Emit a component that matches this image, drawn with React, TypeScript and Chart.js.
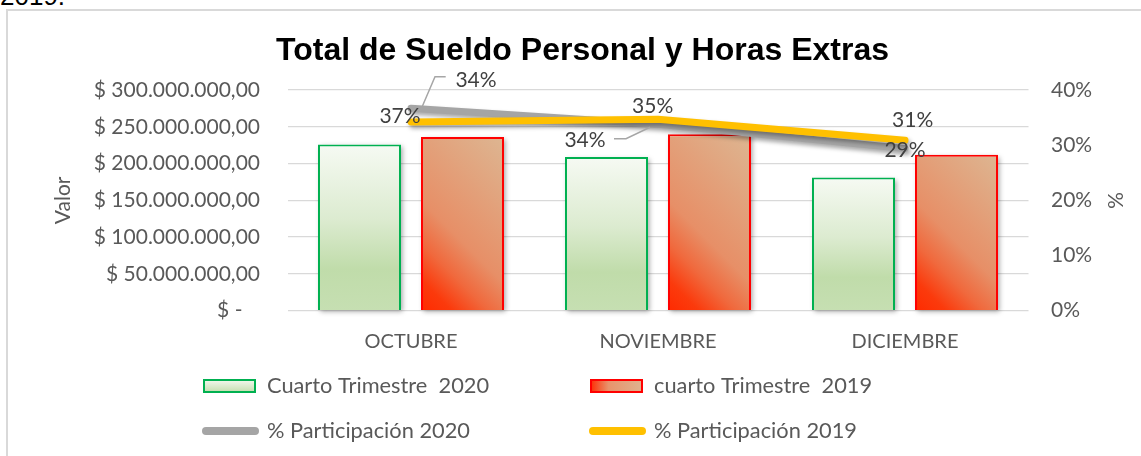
import React, { useEffect, useRef } from 'react';
import { Chart, registerables } from 'chart.js';

Chart.register(...registerables);

// ---------- data ----------
const categories = ['OCTUBRE', 'NOVIEMBRE', 'DICIEMBRE'];
const sueldo2020 = [226000000, 209000000, 181000000];
const sueldo2019 = [236000000, 240000000, 212000000];
const participacion2020 = [0.367, 0.338, 0.294];
const participacion2019 = [0.342, 0.347, 0.309];
const seriesNames = [
  'Cuarto Trimestre  2020',
  'cuarto Trimestre  2019',
  '% Participación 2020',
  '% Participación 2019',
];
const chartTitle = 'Total de Sueldo Personal y Horas Extras';
const leftAxisTitle = 'Valor';
const rightAxisTitle = '%';
const valorMax = 300000000;
const valorStep = 50000000;
const pctMax = 0.4;
const pctStep = 0.1;

// ---------- styles ----------
const FONT = 'Lato, "Open Sans", sans-serif';
const TEXT = '#595959';
const LABEL = '#404040';
const CAT_PCT = 0.834;
const BAR_PCT = 0.806;
const TICK_SIZE = 21;
const XTICK_SIZE = 20;
const LEGEND_SIZE = 21.8;
const DATALABEL_SIZE = 21;

function money(v: number): string {
  if (v === 0) return '$ -\u2007 ';
  const s = Math.round(v).toString().replace(/\B(?=(\d{3})+(?!\d))/g, '.');
  return '$ ' + s + ',00';
}

function barGeom(ctx: any) {
  const chart = ctx.chart;
  const { x, y } = chart.scales;
  const center = x.getPixelForValue(ctx.dataIndex);
  const cat = x.getPixelForValue(1) - x.getPixelForValue(0);
  const slot = (cat * CAT_PCT) / 2;
  const cx = center + (ctx.datasetIndex === 0 ? -slot / 2 : slot / 2);
  const w = slot * BAR_PCT;
  const top = y.getPixelForValue(ctx.raw);
  const bottom = y.getPixelForValue(0);
  return { x0: cx - w / 2, w, top, bottom };
}

function greenFill(ctx: any) {
  if (ctx.type !== 'data' || !ctx.chart.chartArea) return '#d3e8c6';
  const { top, bottom } = barGeom(ctx);
  const g = ctx.chart.ctx.createLinearGradient(0, top, 0, bottom);
  g.addColorStop(0, '#f6faf3');
  g.addColorStop(0.45, '#dcebd0');
  g.addColorStop(0.75, '#c0dcaa');
  g.addColorStop(1, '#c6dfb2');
  return g;
}

function redFill(ctx: any) {
  if (ctx.type !== 'data' || !ctx.chart.chartArea) return '#e8916a';
  const { x0, w, top, bottom } = barGeom(ctx);
  const h = bottom - top;
  const d = (w + h) / 2;
  const len = d * Math.SQRT2;
  const g = ctx.chart.ctx.createLinearGradient(x0, bottom, x0 + d, bottom - d);
  const s = (px: number) => Math.min(0.99, px / len);
  g.addColorStop(0, '#ff2a00');
  g.addColorStop(s(22), '#fb3a0c');
  g.addColorStop(s(48), '#f0693d');
  g.addColorStop(s(78), '#e78f67');
  g.addColorStop(1, '#ddb692');
  return g;
}

// label placement relative to each line point
const labelPlacement: Record<number, Array<{ dx: number; dy: number; leader?: number[][] }>> = {
  2: [
    { dx: -11, dy: 8 },
    { dx: -73, dy: 16, leader: [[-44, 14.5], [-32, 14.5], [-8, 3]] },
    { dx: 0, dy: 1.5 },
  ],
  3: [
    { dx: 65, dy: -41.3, leader: [[34.7, -45.3], [24, -45.3], [9, -10.3]] },
    { dx: -5.3, dy: -13.5 },
    { dx: 7.7, dy: -19.5 },
  ],
};

const shadowPlugin = {
  id: 'shadows',
  beforeDatasetDraw(chart: any, args: any) {
    const ctx = chart.ctx;
    const ds = chart.data.datasets[args.index];
    if (ds.type === 'bar') {
      ctx.save();
      ctx.shadowColor = 'rgba(0,0,0,0.35)';
      ctx.shadowBlur = 5;
      ctx.shadowOffsetX = 2;
      ctx.shadowOffsetY = 2;
      ctx.fillStyle = '#ffffff';
      args.meta.data.forEach((el: any) => {
        const p = el.getProps(['x', 'y', 'base', 'width'], true);
        ctx.fillRect(p.x - p.width / 2, p.y, p.width, p.base - p.y);
      });
      ctx.restore();
      ctx.save();
    } else {
      ctx.save();
      ctx.shadowColor = 'rgba(0,0,0,0.35)';
      ctx.shadowBlur = 4;
      ctx.shadowOffsetX = 2;
      ctx.shadowOffsetY = 3;
    }
  },
  afterDatasetDraw(chart: any) {
    chart.ctx.restore();
  },
  afterDatasetsDraw(chart: any) {
    const ctx = chart.ctx;
    ctx.save();
    ctx.font = `${DATALABEL_SIZE}px ${FONT}`;
    ctx.textAlign = 'center';
    ctx.textBaseline = 'middle';
    [2, 3].forEach((di) => {
      const meta = chart.getDatasetMeta(di);
      const values = chart.data.datasets[di].data as number[];
      meta.data.forEach((el: any, i: number) => {
        const place = labelPlacement[di][i];
        if (place.leader) {
          ctx.strokeStyle = '#a6a6a6';
          ctx.lineWidth = 1.5;
          ctx.beginPath();
          place.leader.forEach((pt, k) => {
            const px = el.x + pt[0];
            const py = el.y + pt[1];
            if (k === 0) ctx.moveTo(px, py);
            else ctx.lineTo(px, py);
          });
          ctx.stroke();
        }
        ctx.fillStyle = LABEL;
        ctx.fillText(Math.round(values[i] * 100) + '%', el.x + place.dx, el.y + place.dy);
      });
    });
    ctx.restore();
  },
  afterDraw(chart: any) {
    const ctx = chart.ctx;
    ctx.save();
    // title
    ctx.font = 'bold 32px "Liberation Sans", Arial, sans-serif';
    ctx.fillStyle = '#000000';
    ctx.textAlign = 'center';
    ctx.textBaseline = 'alphabetic';
    ctx.fillText(chartTitle, 582.5, 59.5);

    // legend (2 x 2)
    ctx.font = `${LEGEND_SIZE}px ${FONT}`;
    ctx.textBaseline = 'middle';
    ctx.textAlign = 'left';
    const cols = [203, 590];
    const rows = [386, 431];
    [0, 1, 2, 3].forEach((k) => {
      const col = cols[k % 2];
      const row = rows[Math.floor(k / 2)];
      if (k === 0) {
        const g = ctx.createLinearGradient(0, row - 7, 0, row + 7);
        g.addColorStop(0, '#f6faf3');
        g.addColorStop(1, '#c0dcaa');
        ctx.fillStyle = g;
        ctx.fillRect(col, row - 7, 53, 14);
        ctx.strokeStyle = '#00b050';
        ctx.lineWidth = 2;
        ctx.strokeRect(col + 1, row - 6, 51, 12);
      } else if (k === 1) {
        const g = ctx.createLinearGradient(col, 0, col + 53, 0);
        g.addColorStop(0, '#ff2a00');
        g.addColorStop(0.35, '#e8936c');
        g.addColorStop(1, '#dfb28f');
        ctx.fillStyle = g;
        ctx.fillRect(col, row - 7, 53, 14);
        ctx.strokeStyle = '#ff0000';
        ctx.lineWidth = 2;
        ctx.strokeRect(col + 1, row - 6, 51, 12);
      } else {
        ctx.strokeStyle = k === 2 ? '#a5a5a5' : '#ffc000';
        ctx.lineWidth = 8;
        ctx.lineCap = 'round';
        ctx.beginPath();
        ctx.moveTo(col + 3, row);
        ctx.lineTo(col + 52, row);
        ctx.stroke();
      }
      ctx.fillStyle = TEXT;
      ctx.fillText(seriesNames[k], col + 64, row);
    });
    ctx.restore();
  },
};

export default function App() {
  const canvasRef = useRef<HTMLCanvasElement | null>(null);

  useEffect(() => {
    if (!canvasRef.current) return;
    const font = { family: FONT, size: TICK_SIZE };
    const chart = new Chart(canvasRef.current, {
      type: 'bar',
      data: {
        labels: categories,
        datasets: [
          {
            type: 'bar',
            label: seriesNames[0],
            data: sueldo2020,
            yAxisID: 'y',
            backgroundColor: greenFill,
            borderColor: '#00b050',
            borderWidth: 2,
            categoryPercentage: CAT_PCT,
            barPercentage: BAR_PCT,
            order: 3,
          },
          {
            type: 'bar',
            label: seriesNames[1],
            data: sueldo2019,
            yAxisID: 'y',
            backgroundColor: redFill,
            borderColor: '#ff0000',
            borderWidth: 2,
            categoryPercentage: CAT_PCT,
            barPercentage: BAR_PCT,
            order: 3,
          },
          {
            type: 'line',
            label: seriesNames[2],
            data: participacion2020,
            yAxisID: 'y1',
            borderColor: '#a5a5a5',
            borderWidth: 7,
            pointRadius: 0,
            borderCapStyle: 'round',
            borderJoinStyle: 'round',
            tension: 0,
            clip: false,
            order: 2,
          } as any,
          {
            type: 'line',
            label: seriesNames[3],
            data: participacion2019,
            yAxisID: 'y1',
            borderColor: '#ffc000',
            borderWidth: 7,
            pointRadius: 0,
            borderCapStyle: 'round',
            borderJoinStyle: 'round',
            tension: 0,
            clip: false,
            order: 1,
          } as any,
        ],
      },
      options: {
        responsive: false,
        animation: false,
        devicePixelRatio: 1,
        layout: { padding: { top: 90, left: 0, right: 0, bottom: 0 } },
        plugins: {
          legend: { display: false },
          title: { display: false },
          tooltip: { enabled: false },
        },
        scales: {
          x: {
            type: 'category',
            offset: true,
            grid: { display: false, drawTicks: false },
            border: { display: false },
            ticks: { color: TEXT, font: { family: FONT, size: XTICK_SIZE }, padding: 19 },
            afterFit: (s: any) => {
              s.height = 145.3;
            },
          },
          y: {
            position: 'left',
            min: 0,
            max: valorMax,
            ticks: { stepSize: valorStep, color: TEXT, font, padding: 27.5, callback: (v: any) => money(Number(v)) },
            grid: { color: '#d9d9d9', lineWidth: 1.3, drawTicks: false },
            border: { display: false },
            title: { display: true, text: leftAxisTitle, color: TEXT, font, padding: { top: 51, bottom: 0 } },
            afterFit: (s: any) => {
              s.width = 287.5;
            },
          },
          y1: {
            position: 'right',
            min: 0,
            max: pctMax,
            ticks: { stepSize: pctStep, color: TEXT, font, padding: 22.5, callback: (v: any) => Math.round(Number(v) * 100) + '%' },
            grid: { display: false, drawTicks: false },
            border: { display: false },
            title: { display: true, text: rightAxisTitle, color: TEXT, font, padding: { top: 13.5, bottom: 0 } },
            afterFit: (s: any) => {
              s.width = 112.5;
            },
          },
        },
      } as any,
      plugins: [shadowPlugin],
    });
    return () => chart.destroy();
  }, []);

  return (
    <div style={{ position: 'fixed', left: 0, top: 0, width: 1141, height: 456, overflow: 'hidden', background: '#fff' }}>
      <div
        style={{
          position: 'absolute',
          left: 0,
          top: -19,
          fontFamily: '"Liberation Sans", Arial, sans-serif',
          fontSize: 26,
          lineHeight: '30px',
          color: '#000',
        }}
      >
        2019.
      </div>
      <div
        style={{
          position: 'absolute',
          left: 6,
          top: 9,
          width: 1200,
          height: 500,
          border: '2px solid #d9d9d9',
          boxSizing: 'border-box',
        }}
      />
      <canvas
        ref={canvasRef}
        width={1141}
        height={456}
        style={{ position: 'absolute', left: 0, top: 0, width: 1141, height: 456, display: 'block' }}
      />
    </div>
  );
}
